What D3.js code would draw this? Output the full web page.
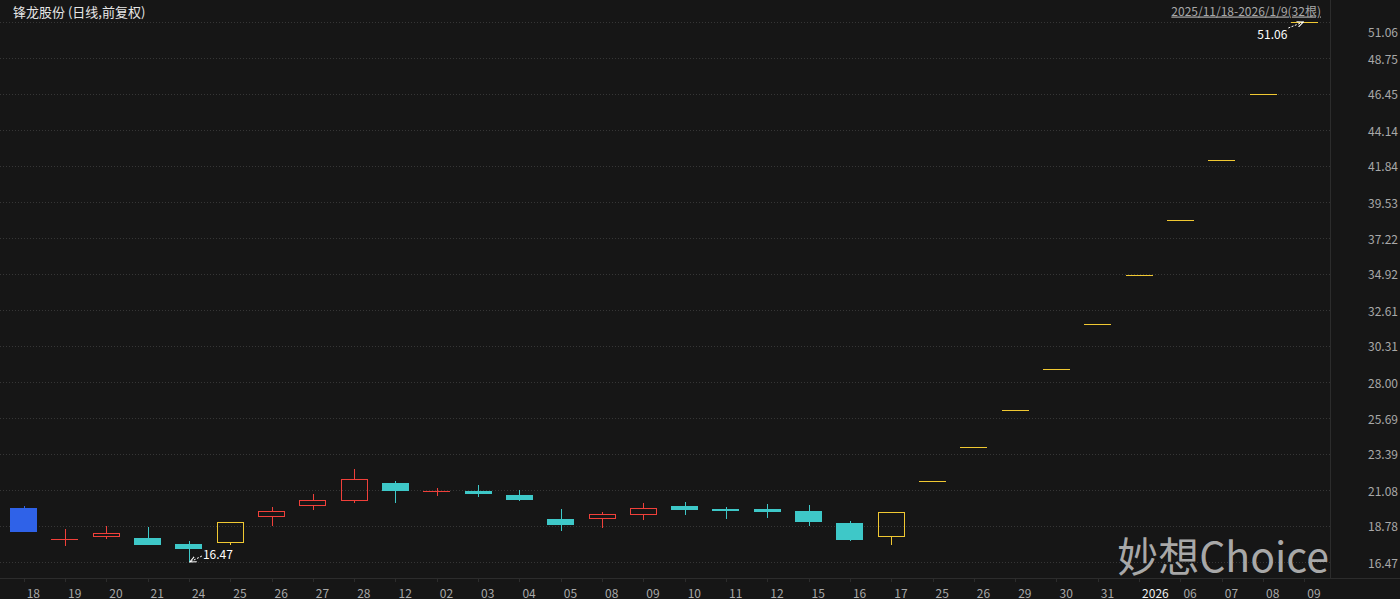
<!DOCTYPE html>
<html>
<head>
<meta charset="utf-8">
<script src="https://cdn.jsdelivr.net/npm/d3@7/dist/d3.min.js"></script>
<style>
  html, body { margin: 0; padding: 0; background: #161616; }
  svg { display: block; }
</style>
</head>
<body>
<svg id="chart" width="1400" height="599"></svg>
<script>
// ---- data ----
const dates = ["18","19","20","21","24","25","26","27","28","12","02","03","04","05","08","09","10","11","12","15","16","17","25","26","29","30","31","2026","06","07","08","09"];
const openV  = [19.91,17.90,18.08,17.98,17.61,17.66,19.37,20.08,20.40,21.52,20.99,21.03,20.77,19.22,19.24,19.50,20.06,19.87,19.87,19.74,18.96,18.04,21.65,23.82,26.20,28.82,31.70,34.87,38.36,42.20,46.42,51.06];
const highV  = [20.06,18.56,18.77,18.69,17.82,19.05,20.01,20.83,22.42,21.69,21.20,21.41,21.09,19.87,19.69,20.27,20.34,20.01,20.19,20.12,19.09,19.68,21.65,23.82,26.20,28.82,31.70,34.87,38.36,42.20,46.42,51.06];
const lowV   = [18.40,17.48,17.93,17.55,16.47,17.55,18.79,19.80,20.27,20.23,20.70,20.66,20.40,18.45,18.66,19.16,19.48,19.22,19.30,18.79,17.80,17.55,21.65,23.82,26.20,28.82,31.70,34.87,38.36,42.20,46.42,51.06];
const closeV = [18.40,17.92,18.32,17.55,17.29,19.05,19.74,20.45,21.80,21.04,21.01,20.85,20.47,18.85,19.54,19.91,19.80,19.74,19.67,19.05,17.89,19.68,21.65,23.82,26.20,28.82,31.70,34.87,38.36,42.20,46.42,51.06];
const limitFlag = ["跌停","","","","","涨停","","","","","","","","","","","","","","","","涨停","涨停","涨停","涨停","涨停","涨停","涨停","涨停","涨停","涨停","涨停"];
const yTicks = [16.47,18.78,21.08,23.39,25.69,28.00,30.31,32.61,34.92,37.22,39.53,41.84,44.14,46.45,48.75,51.06];
const yTickLabels = ["16.47","18.78","21.08","23.39","25.69","28.00","30.31","32.61","34.92","37.22","39.53","41.84","44.14","46.45","48.75","51.06"];
const title = "锋龙股份 (日线,前复权)";
const rangeText = "2025/11/18-2026/1/9(32根)";
const minAnno = {index: 4, value: 16.47};
const maxAnno = {index: 31, value: 51.06};

const data = dates.map((d, i) => ({i, d, o: openV[i], h: highV[i], l: lowV[i], c: closeV[i], flag: limitFlag[i]}));

// ---- styling ----
const W = 1400, H = 599;
const plotRight = 1330, axisY = 578;
const RED = "#f0403a", CYAN = "#3ec8c8", BLUE = "#2f62e8", YELLOW = "#f0c832";
const FONT = "'Noto Sans CJK SC','Noto Sans',sans-serif";

const svg = d3.select("#chart");
svg.append("rect").attr("width", W).attr("height", H).attr("fill", "#161616");

const x = d3.scaleBand().domain(d3.range(dates.length)).range([3, 1325]).padding(0);
const cx = i => x(i) + x.bandwidth() / 2;
const bw = Math.round(x.bandwidth() * 0.66);
const y = d3.scaleLinear().domain([16.47, 51.06]).range([562, 22]);

// grid lines
svg.append("g").selectAll("line").data(yTicks).join("line")
  .attr("x1", 0).attr("x2", plotRight)
  .attr("y1", d => Math.round(y(d)) + 0.5).attr("y2", d => Math.round(y(d)) + 0.5)
  .attr("stroke", "#363636").attr("stroke-width", 1).attr("stroke-dasharray", "1,2")
  .attr("shape-rendering", "crispEdges");

// y-axis separator and x-axis line
svg.append("line").attr("x1", plotRight + 0.5).attr("x2", plotRight + 0.5).attr("y1", 0).attr("y2", axisY)
  .attr("stroke", "#2c2c2c");
svg.append("line").attr("x1", 0).attr("x2", W).attr("y1", axisY + 0.5).attr("y2", axisY + 0.5)
  .attr("stroke", "#2c2c2c");

// y-axis labels
svg.append("g").selectAll("text").data(yTicks).join("text")
  .attr("x", 1398).attr("y", d => Math.max(y(d), 31))
  .attr("text-anchor", "end").attr("dominant-baseline", "central")
  .attr("font-family", FONT).attr("font-size", 12).attr("fill", "#a8a8a8")
  .text((d, i) => yTickLabels[i]);

// x-axis ticks & labels
const xg = svg.append("g");
xg.selectAll("line").data(data).join("line")
  .attr("x1", d => Math.round(cx(d.i)) + 0.5).attr("x2", d => Math.round(cx(d.i)) + 0.5)
  .attr("y1", axisY).attr("y2", axisY + 4).attr("stroke", "#2c2c2c");
xg.selectAll("text").data(data).join("text")
  .attr("x", d => cx(d.i) + 3).attr("y", 592)
  .attr("dominant-baseline", "central")
  .attr("font-family", FONT).attr("font-size", 12)
  .attr("fill", d => d.d === "2026" ? "#f0f0f0" : "#a8a8a8")
  .text(d => d.d);

// watermark
svg.append("text").attr("x", 1329).attr("y", 554)
  .attr("text-anchor", "end").attr("dominant-baseline", "central")
  .attr("font-family", FONT).attr("font-size", 41)
  .attr("fill", "#c4c4c4").attr("fill-opacity", 0.85)
  .text("妙想Choice");

// candles
function colorOf(d) {
  if (d.flag === "跌停") return BLUE;
  if (d.flag === "涨停") return YELLOW;
  return d.c >= d.o ? RED : CYAN;
}
const cg = svg.append("g").attr("shape-rendering", "crispEdges");
data.forEach(d => {
  const col = colorOf(d);
  const xc = Math.round(cx(d.i)) + 0.5;
  const left = Math.round(cx(d.i) - bw / 2);
  const up = d.c >= d.o;
  const top = Math.round(y(Math.max(d.o, d.c)));
  const bot = Math.round(y(Math.min(d.o, d.c)));
  const yh = Math.round(y(d.h)), yl = Math.round(y(d.l));
  if (d.h === d.l) { // one-price bar
    cg.append("line").attr("x1", left).attr("x2", left + bw)
      .attr("y1", top + 0.5).attr("y2", top + 0.5).attr("stroke", col).attr("stroke-width", 1.5);
    return;
  }
  if (up) {
    if (bot - top < 2) {
      cg.append("line").attr("x1", xc).attr("x2", xc).attr("y1", yh).attr("y2", yl).attr("stroke", col).attr("stroke-width", 1.2);
      cg.append("line").attr("x1", left).attr("x2", left + bw).attr("y1", top + 0.5).attr("y2", top + 0.5).attr("stroke", col).attr("stroke-width", 1.4);
    } else {
      if (yh < top) cg.append("line").attr("x1", xc).attr("x2", xc).attr("y1", yh).attr("y2", top).attr("stroke", col).attr("stroke-width", 1.2);
      if (yl > bot) cg.append("line").attr("x1", xc).attr("x2", xc).attr("y1", bot).attr("y2", yl).attr("stroke", col).attr("stroke-width", 1.2);
      cg.append("rect").attr("x", left + 0.5).attr("y", top + 0.5)
        .attr("width", bw - 1).attr("height", bot - top - 1)
        .attr("fill", "none").attr("stroke", col).attr("stroke-width", 1.2);
    }
  } else {
    cg.append("line").attr("x1", xc).attr("x2", xc).attr("y1", yh).attr("y2", yl).attr("stroke", col).attr("stroke-width", 1.2);
    cg.append("rect").attr("x", left).attr("y", top)
      .attr("width", bw).attr("height", Math.max(2, bot - top)).attr("fill", col);
  }
});

// annotations
const defs = svg.append("defs");
defs.append("marker").attr("id", "arr").attr("viewBox", "0 0 10 10")
  .attr("refX", 9).attr("refY", 5).attr("markerWidth", 7).attr("markerHeight", 7)
  .attr("orient", "auto-start-reverse")
  .append("path").attr("d", "M0,1 L9,5 L0,9").attr("fill", "none").attr("stroke", "#fff").attr("stroke-width", 1.5);

function anno(a, dx, dy, tx, ty, anchor) {
  const px = cx(a.index), py = y(a.value);
  svg.append("line").attr("x1", px + dx).attr("y1", py + dy).attr("x2", px + (dx > 0 ? 1 : -1)).attr("y2", py)
    .attr("stroke", "#fff").attr("stroke-width", 1).attr("stroke-dasharray", "2,1.5")
    .attr("marker-end", "url(#arr)");
  svg.append("text").attr("x", px + tx).attr("y", py + ty)
    .attr("text-anchor", anchor).attr("dominant-baseline", "central")
    .attr("font-family", FONT).attr("font-size", 12).attr("fill", "#ffffff")
    .text(a.value.toFixed(2));
}
anno(minAnno, 13, -6, 14, -9, "start");
anno(maxAnno, -16, 6, -17, 11, "end");

// title & range
svg.append("text").attr("x", 13).attr("y", 11).attr("dominant-baseline", "central")
  .attr("font-family", FONT).attr("font-size", 13).attr("fill", "#e6e6e6").text(title);
svg.append("text").attr("x", 1321).attr("y", 10).attr("text-anchor", "end").attr("dominant-baseline", "central")
  .attr("font-family", FONT).attr("font-size", 12).attr("fill", "#a8a8a8")
  .attr("text-decoration", "underline").text(rangeText);
</script>
</body>
</html>
